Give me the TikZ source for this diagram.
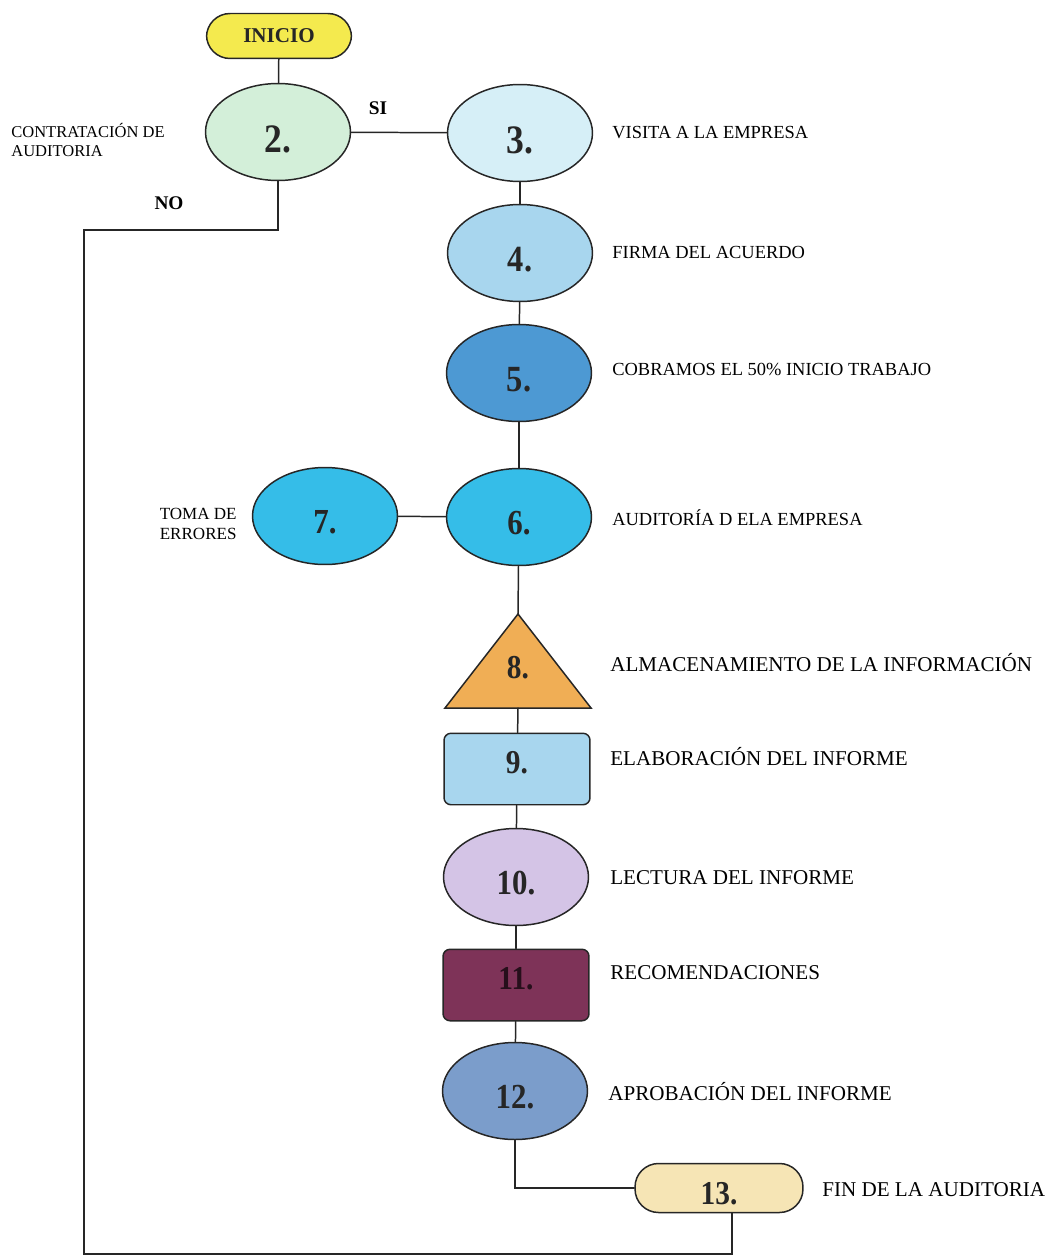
\documentclass[tikz,border=0pt]{standalone}
\usepackage{fontspec}
\setmainfont{Liberation Serif}
\newfontfamily\numfont[FakeStretch=0.88]{Liberation Serif}
\usepackage{tikz}
\usetikzlibrary{shapes.geometric}
\usepackage{xcolor}
\definecolor{inicioamarillo}{HTML}{F4EA4E}
\definecolor{verdeclaro}{HTML}{D3EFD9}
\definecolor{celestepalido}{HTML}{D6EFF7}
\definecolor{celeste}{HTML}{A8D6EE}
\definecolor{azulmedio}{HTML}{4D99D3}
\definecolor{turquesa}{HTML}{35BDE8}
\definecolor{naranja}{HTML}{F0AE55}
\definecolor{lavanda}{HTML}{D4C4E6}
\definecolor{granate}{HTML}{7E3358}
\definecolor{azulgris}{HTML}{7B9DCB}
\definecolor{crema}{HTML}{F6E5B5}

\begin{document}
\begin{tikzpicture}[x=0.02cm,y=-0.02cm,line cap=round,
  linea/.style={draw=black!85,line width=0.85pt},
  cifra/.style={font=\numfont\bfseries\fontsize{#1}{#1}\selectfont,text=black!85,text height=#1pt},
  cifra/.default=20,
  paso/.style={linea,ellipse,minimum width=2.9cm,minimum height=1.94cm,inner sep=0pt,cifra=#1,text depth=0pt},
  paso/.default=20,
  caja/.style={linea,rectangle,rounded corners=0.14cm,minimum width=2.92cm,minimum height=1.43cm,inner sep=0pt,
    cifra=19,text depth=14pt},
  ovalo/.style={linea,rectangle,rounded corners=0.47cm,inner sep=0pt},
  desc/.style={anchor=west,align=left,inner sep=0pt,font=\fontsize{10.5}{12.5}\selectfont},
  grande/.style={font=\fontsize{12}{14}\selectfont},
  resp/.style={inner sep=0pt,font=\bfseries\fontsize{11}{12}\selectfont}]
\useasboundingbox (0,0) rectangle (1052,1257);

\node[ovalo,fill=inicioamarillo,minimum width=2.9cm,minimum height=0.9cm,
  font=\bfseries\fontsize{12}{13}\selectfont,text=black!85] (inicio) at (279,36) {INICIO};
\node[paso=23,fill=verdeclaro] (n2) at (278,132) {2.};
\node[paso=23,fill=celestepalido] (n3) at (520,133) {3.};
\node[paso=21,fill=celeste] (n4) at (520,253) {4.};
\node[paso=21,fill=azulmedio] (n5) at (519,373) {5.};
\node[paso=20,fill=turquesa] (n6) at (519,517) {6.};
\node[paso=20,fill=turquesa] (n7) at (325,516) {7.};
\coordinate (n8top) at (518,614);
\coordinate (n8base) at (518,708);
\draw[linea,fill=naranja] (n8top) -- (591,708) -- (445,708) -- cycle;
\node[inner sep=0pt,cifra=19,text height=13pt,text depth=0pt] (n8) at (518,667) {8.};
\node[caja,fill=celeste] (n9) at (517,769) {9.};
\node[paso=20,fill=lavanda] (n10) at (516,877) {10.};
\node[caja,fill=granate,text=black!70!granate] (n11) at (516,985) {11.};
\node[paso=20,fill=azulgris] (n12) at (515,1091) {12.};
\node[ovalo,fill=crema,minimum width=3.36cm,minimum height=0.98cm,cifra=19,text depth=0pt] (n13) at (719,1188) {13.};

\node[desc,font=\fontsize{9.4}{11}\selectfont] (d2) at (11,140) {CONTRATACIÓN DE\\AUDITORIA};
\node[desc] (d3) at (612,133) {VISITA A LA EMPRESA};
\node[desc] (d4) at (612,252) {FIRMA DEL ACUERDO};
\node[desc] (d5) at (612,369) {COBRAMOS EL 50\% INICIO TRABAJO};
\node[desc] (d6) at (612,518) {AUDITORÍA D ELA EMPRESA};
\node[desc,anchor=east,font=\fontsize{9.7}{11.5}\selectfont] (d7) at (237,524) {TOMA DE\\ERRORES};
\node[desc,grande] (d8) at (610,663) {ALMACENAMIENTO DE LA INFORMACIÓN};
\node[desc,grande] (d9) at (610,757) {ELABORACIÓN DEL INFORME};
\node[desc,grande] (d10) at (610,878) {LECTURA DEL INFORME};
\node[desc,grande] (d11) at (610,973) {RECOMENDACIONES};
\node[desc,grande] (d12) at (608,1092) {APROBACIÓN DEL INFORME};
\node[desc,grande] (d13) at (822,1190) {FIN DE LA AUDITORIA};
\node[resp] (si) at (378,108) {SI};
\node[resp] (no) at (169,203) {NO};

\coordinate (noarriba) at (84,230);
\coordinate (noabajo) at (84,1254);
\draw[linea] (inicio) -- (n2);
\draw[linea] (n2) -- (n3);
\draw[linea] (n3) -- (n4);
\draw[linea] (n4) -- (n5);
\draw[linea] (n5) -- (n6);
\draw[linea] (n7) -- (n6);
\draw[linea] (n6) -- (n8top);
\draw[linea] (n8base) -- (n9);
\draw[linea] (n9) -- (n10);
\draw[linea] (n10) -- (n11);
\draw[linea] (n11) -- (n12);
\draw[linea] (n12) |- (n13);
\draw[linea] (n2) |- (noarriba) -- (noabajo) -| ([xshift=0.26cm]n13.south);
\end{tikzpicture}
\end{document}
